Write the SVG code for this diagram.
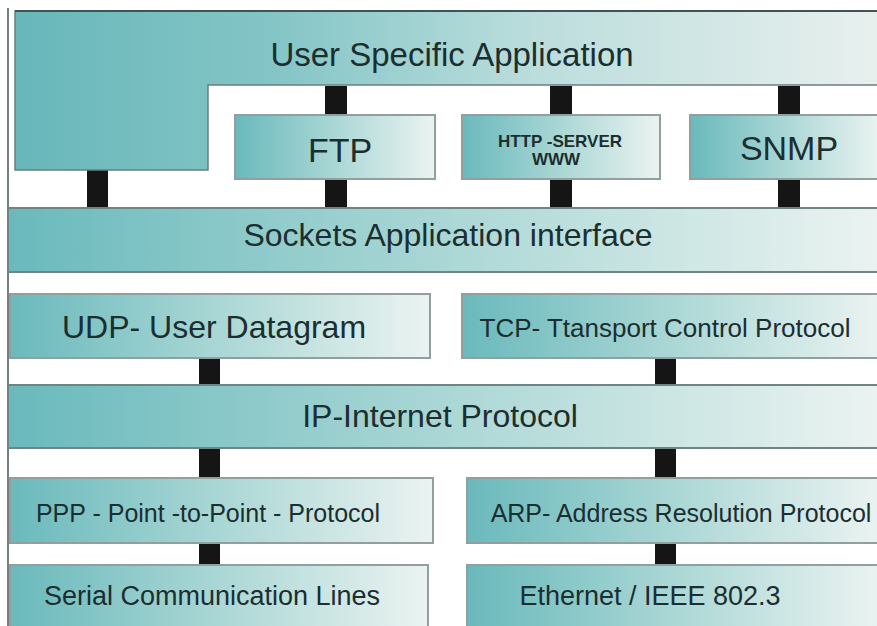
<svg xmlns="http://www.w3.org/2000/svg" width="877" height="626" viewBox="0 0 877 626">
  <defs>
    <linearGradient id="tealFade" x1="0" y1="0" x2="1" y2="0">
      <stop offset="0" stop-color="#6ab9bc"/>
      <stop offset="0.5" stop-color="#aad7d5"/>
      <stop offset="1" stop-color="#ebf3f1"/>
    </linearGradient>
    <linearGradient id="topFade" gradientUnits="userSpaceOnUse" x1="15" y1="0" x2="877" y2="0">
      <stop offset="0" stop-color="#68b7ba"/>
      <stop offset="0.3" stop-color="#84c5c6"/>
      <stop offset="0.6" stop-color="#bbdddc"/>
      <stop offset="1" stop-color="#e8f0ee"/>
    </linearGradient>
    <style>
      .band { fill: url(#tealFade); stroke: #6f8584; stroke-width: 2; }
      .box { fill: url(#tealFade); stroke: #929f9f; stroke-width: 2; }
      .link { fill: #151515; }
      text { font-family: "Liberation Sans", Arial, sans-serif; fill: #1b2e30; text-anchor: middle; }
      .small { font-weight: bold; font-size: 17px; }
    </style>
  </defs>

  <rect width="877" height="626" fill="#ffffff"/>

  <!-- left frame edge -->
  <line x1="8" y1="8" x2="8" y2="626" stroke="#4a5656" stroke-width="1.5"/>

  <g id="connectors">
    <rect class="link" x="87" y="170" width="21" height="38"/>
    <rect class="link" x="325" y="86" width="22" height="122"/>
    <rect class="link" x="550" y="86" width="22" height="122"/>
    <rect class="link" x="778" y="86" width="22" height="122"/>
    <rect class="link" x="199" y="358" width="21" height="120"/>
    <rect class="link" x="199" y="543" width="21" height="22"/>
    <rect class="link" x="655" y="358" width="21" height="120"/>
    <rect class="link" x="655" y="543" width="21" height="22"/>
  </g>

  <g id="user-app">
    <path d="M15,11 H880 V85 H208 V170 H15 Z" fill="url(#topFade)" stroke="#6a7f7e" stroke-width="1.5"/>
    <line x1="15" y1="11" x2="880" y2="11" stroke="#3f5453" stroke-width="2"/>
    <text x="452" y="66" font-size="33">User Specific Application</text>
  </g>

  <g id="ftp">
    <rect class="box" x="235" y="115" width="200" height="64"/>
    <text x="340" y="162" font-size="34">FTP</text>
  </g>

  <g id="http-server">
    <rect class="box" x="462" y="115" width="198" height="64"/>
    <text class="small" x="560" y="147">HTTP -SERVER</text>
    <text class="small" x="556" y="165">WWW</text>
  </g>

  <g id="snmp">
    <rect class="box" x="690" y="115" width="190" height="64"/>
    <text x="789" y="160" font-size="34">SNMP</text>
  </g>

  <g id="sockets">
    <rect class="band" x="8" y="208" width="872" height="64"/>
    <text x="448" y="246" font-size="32">Sockets Application interface</text>
  </g>

  <g id="udp">
    <rect class="box" x="10" y="294" width="420" height="64"/>
    <text x="214" y="338" font-size="32">UDP- User Datagram</text>
  </g>

  <g id="tcp">
    <rect class="box" x="462" y="294" width="418" height="64"/>
    <text x="665" y="337" font-size="26">TCP- Ttansport Control Protocol</text>
  </g>

  <g id="ip">
    <rect class="band" x="8" y="385" width="872" height="63"/>
    <text x="440" y="427" font-size="32">IP-Internet Protocol</text>
  </g>

  <g id="ppp">
    <rect class="box" x="10" y="478" width="423" height="65"/>
    <text x="208" y="522" font-size="25">PPP - Point -to-Point - Protocol</text>
  </g>

  <g id="arp">
    <rect class="box" x="467" y="478" width="413" height="65"/>
    <text x="681" y="522" font-size="25">ARP- Address Resolution Protocol</text>
  </g>

  <g id="serial">
    <rect class="box" x="10" y="565" width="418" height="70"/>
    <text x="212" y="605" font-size="27">Serial Communication Lines</text>
  </g>

  <g id="ethernet">
    <rect class="box" x="467" y="565" width="413" height="70"/>
    <text x="650" y="605" font-size="27">Ethernet / IEEE 802.3</text>
  </g>
</svg>
